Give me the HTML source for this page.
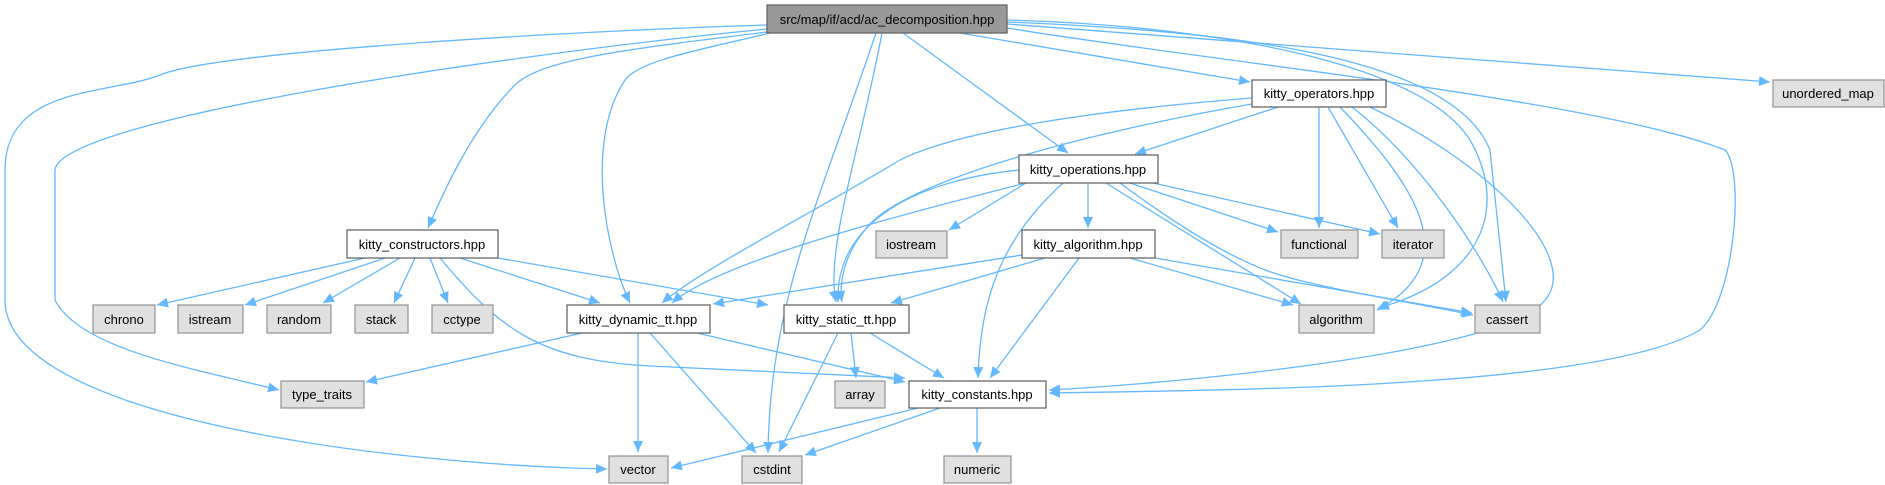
<!DOCTYPE html>
<html><head><meta charset="utf-8"><style>
html,body{margin:0;padding:0;background:#fff;}
svg{display:block;}
text{font-family:"Liberation Sans",Arial,sans-serif;font-size:13px;fill:#000;}
</style></head><body>
<svg width="1885" height="485" viewBox="0 0 1885 485" xmlns="http://www.w3.org/2000/svg">
<defs>
<marker id="a" markerUnits="userSpaceOnUse" markerWidth="12" markerHeight="10" refX="11" refY="5" orient="auto">
<path d="M0,0 L11,5 L0,10 Z" fill="#63b8ff"/>
</marker>
</defs>
<g fill="none" stroke="#63b8ff" stroke-width="1.3" marker-end="url(#a)">
<path d="M767,25 C600,30 220,50 160,75 C110,95 5,85 5,170 L5,300 C5,420 400,465 607,469"/>
<path d="M767,29 C500,55 60,120 55,170 L55,300 C80,350 200,370 279,390"/>
<path d="M767,32 C620,50 540,60 515,85 C470,130 440,200 428,228"/>
<path d="M770,33 C700,50 640,60 625,80 C585,140 605,250 630,303"/>
<path d="M876,33 C820,200 770,300 768,453"/>
<path d="M882,33 C860,150 825,250 836,302"/>
<path d="M903,33 L1068,153"/>
<path d="M960,33 L1250,82"/>
<path d="M1007,24 L1770,82"/>
<path d="M1007,20 C1200,25 1420,60 1470,140 C1510,210 1480,280 1378,308"/>
<path d="M1007,22 C1200,30 1450,50 1490,150 L1506,302"/>
<path d="M1007,28 C1200,60 1600,100 1725,150 C1745,170 1735,300 1700,330 C1600,390 1200,390 1049,393"/>
<path d="M1278,107 L1135,154"/>
<path d="M1252,98 C1100,110 960,130 900,160 C800,220 700,270 662,303"/>
<path d="M1252,104 C1100,130 900,180 865,230 C840,260 840,290 842,302"/>
<path d="M1319,107 L1319,228"/>
<path d="M1328,107 L1398,228"/>
<path d="M1340,107 C1410,180 1470,260 1377,310"/>
<path d="M1352,107 C1420,160 1480,250 1503,302"/>
<path d="M1370,107 C1500,170 1580,260 1545,300 C1510,350 1200,382 1049,390"/>
<path d="M1026,183 L949,230"/>
<path d="M1088,183 L1088,228"/>
<path d="M1130,183 L1278,232"/>
<path d="M1153,183 L1380,234"/>
<path d="M1106,183 L1301,304"/>
<path d="M1120,183 C1170,220 1230,260 1280,275 C1330,290 1400,300 1473,315"/>
<path d="M1026,183 C920,210 720,260 672,303"/>
<path d="M1019,170 C920,180 835,220 838,302"/>
<path d="M1063,183 C1000,240 980,300 978,378"/>
<path d="M1022,255 L713,304"/>
<path d="M1045,258 L891,303"/>
<path d="M1079,258 L990,378"/>
<path d="M1130,258 L1293,305"/>
<path d="M1155,258 L1472,313"/>
<path d="M365,258 L157,305"/>
<path d="M385,258 L245,305"/>
<path d="M400,258 L323,303"/>
<path d="M415,258 L394,303"/>
<path d="M430,258 L448,303"/>
<path d="M460,258 L600,303"/>
<path d="M498,258 L768,305"/>
<path d="M440,258 C500,330 540,360 650,366 L905,378"/>
<path d="M582,333 L366,382"/>
<path d="M638,333 L638,452"/>
<path d="M650,333 L756,453"/>
<path d="M697,333 L905,382"/>
<path d="M851,333 L856,378"/>
<path d="M838,333 L779,452"/>
<path d="M870,333 L944,378"/>
<path d="M918,408 L671,468"/>
<path d="M940,408 L805,455"/>
<path d="M977,408 L977,453"/>
</g>
<g stroke-width="1.3">
<rect x="767" y="5" width="240" height="28" fill="#999" stroke="#666"/>
<g fill="#fff" stroke="#666">
<rect x="1252" y="80" width="134" height="27"/>
<rect x="1019" y="155" width="139" height="28"/>
<rect x="1022" y="230" width="133" height="28"/>
<rect x="347" y="230" width="151" height="28"/>
<rect x="567" y="305" width="143" height="28"/>
<rect x="784" y="305" width="125" height="28"/>
<rect x="909" y="381" width="137" height="27"/>
</g>
<g fill="#e0e0e0" stroke="#999">
<rect x="1773" y="80" width="111" height="27"/>
<rect x="876" y="231" width="71" height="27"/>
<rect x="1281" y="230" width="77" height="28"/>
<rect x="1382" y="230" width="62" height="28"/>
<rect x="93" y="305" width="62" height="28"/>
<rect x="178" y="305" width="65" height="28"/>
<rect x="267" y="305" width="64" height="28"/>
<rect x="355" y="305" width="53" height="28"/>
<rect x="432" y="305" width="61" height="28"/>
<rect x="1299" y="305" width="75" height="28"/>
<rect x="1475" y="305" width="65" height="28"/>
<rect x="281" y="381" width="83" height="27"/>
<rect x="835" y="381" width="50" height="27"/>
<rect x="609" y="456" width="59" height="27"/>
<rect x="742" y="456" width="60" height="27"/>
<rect x="944" y="456" width="67" height="27"/>
</g>
</g>
<g text-anchor="middle">
<text x="887" y="24">src/map/if/acd/ac_decomposition.hpp</text>
<text x="1319" y="98">kitty_operators.hpp</text>
<text x="1088" y="174">kitty_operations.hpp</text>
<text x="1088" y="249">kitty_algorithm.hpp</text>
<text x="422" y="249">kitty_constructors.hpp</text>
<text x="638" y="324">kitty_dynamic_tt.hpp</text>
<text x="846" y="324">kitty_static_tt.hpp</text>
<text x="977" y="399">kitty_constants.hpp</text>
<text x="1828" y="98">unordered_map</text>
<text x="911" y="249">iostream</text>
<text x="1319" y="249">functional</text>
<text x="1413" y="249">iterator</text>
<text x="124" y="324">chrono</text>
<text x="210" y="324">istream</text>
<text x="299" y="324">random</text>
<text x="381" y="324">stack</text>
<text x="462" y="324">cctype</text>
<text x="1336" y="324">algorithm</text>
<text x="1507" y="324">cassert</text>
<text x="322" y="399">type_traits</text>
<text x="860" y="399">array</text>
<text x="638" y="474">vector</text>
<text x="772" y="474">cstdint</text>
<text x="977" y="474">numeric</text>
</g>
</svg>
</body></html>
